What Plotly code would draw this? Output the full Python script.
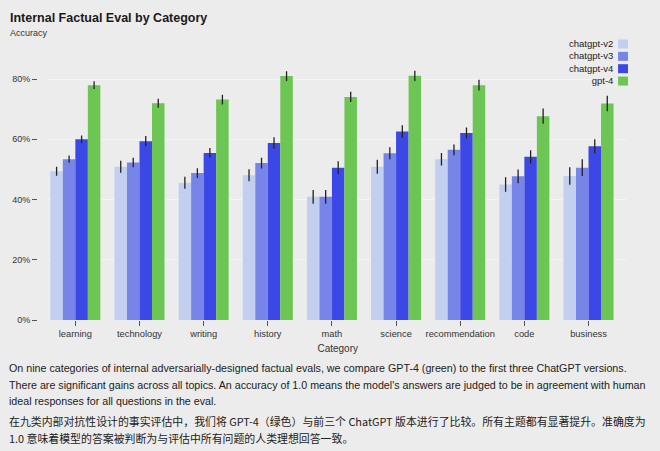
import plotly.graph_objects as go

categories = ["learning", "technology", "writing", "history", "math",
              "science", "recommendation", "code", "business"]
series_names = ["chatgpt-v2", "chatgpt-v3", "chatgpt-v4", "gpt-4"]

chatgpt_v2 = [0.494, 0.509, 0.456, 0.481, 0.409, 0.509, 0.534, 0.450, 0.478]
chatgpt_v3 = [0.534, 0.523, 0.488, 0.521, 0.409, 0.554, 0.565, 0.477, 0.506]
chatgpt_v4 = [0.600, 0.594, 0.555, 0.588, 0.506, 0.626, 0.621, 0.542, 0.577]
gpt_4 = [0.780, 0.720, 0.732, 0.810, 0.741, 0.811, 0.780, 0.677, 0.719]

err_v2 = [0.015, 0.020, 0.020, 0.020, 0.023, 0.023, 0.021, 0.024, 0.029]
err_v3 = [0.012, 0.016, 0.016, 0.018, 0.023, 0.020, 0.018, 0.023, 0.028]
err_v4 = [0.013, 0.017, 0.016, 0.019, 0.021, 0.021, 0.018, 0.022, 0.023]
err_g4 = [0.013, 0.015, 0.016, 0.016, 0.017, 0.017, 0.018, 0.025, 0.026]

colors = ["#c3cff0", "#7885e8", "#3c48e6", "#6dc554"]
values = [chatgpt_v2, chatgpt_v3, chatgpt_v4, gpt_4]
errors = [err_v2, err_v3, err_v4, err_g4]

y_ticks = [0, 0.2, 0.4, 0.6, 0.8]
y_tick_labels = ["0%", "20%", "40%", "60%", "80%"]

title_text = "Internal Factual Eval by Category"
y_label = "Accuracy"
x_label = "Category"
caption_en = [
    "On nine categories of internal adversarially-designed factual evals, we compare GPT-4 (green) to the first three ChatGPT versions.",
    "There are significant gains across all topics. An accuracy of 1.0 means the model's answers are judged to be in agreement with human",
    "ideal responses for all questions in the eval.",
]
caption_zh = [
    "在九类内部对抗性设计的事实评估中，我们将 GPT-4（绿色）与前三个 ChatGPT 版本进行了比较。所有主题都有显著提升。准确度为",
    "1.0 意味着模型的答案被判断为与评估中所有问题的人类理想回答一致。",
]

BG = "#ececec"
FONT = "Liberation Sans, Arial, sans-serif"
CJK = "Noto Sans CJK SC, Liberation Sans, sans-serif"

W, H = 660, 451
ML, MR, MT, MB = 32, 33, 49, 131
PW, PH = W - ML - MR, H - MT - MB
plot_left_px = 43.5


def px_x(px):
    return (px - ML) / PW


def px_y(py):
    return 1 - (py - MT) / PH


fig = go.Figure()
for name, vals, errs, col in zip(series_names, values, errors, colors):
    fig.add_trace(go.Bar(
        x=categories, y=vals, name=name,
        marker=dict(color=col, line=dict(width=0)),
        error_y=dict(type="data", array=errs, visible=True, color="#222222",
                     thickness=1.3, width=0),
        showlegend=False,
    ))

fig.update_layout(
    width=W, height=H,
    paper_bgcolor=BG, plot_bgcolor=BG,
    barmode="group", bargap=0.22, bargroupgap=0,
    margin=dict(l=ML, r=MR, t=MT, b=MB),
    font=dict(family=FONT, size=10, color="#333333"),
    xaxis=dict(
        domain=[px_x(plot_left_px), 1],
        range=[-0.42, 8.6], showgrid=False, zeroline=False, showline=False,
        ticks="outside", ticklen=5, tickcolor="#555555", tickwidth=1,
        tickfont=dict(size=9.3, color="#333333"),
        title=dict(text=x_label, font=dict(size=10, color="#333333"), standoff=6),
    ),
    yaxis=dict(
        anchor="free", position=0,
        range=[0, 0.9], tickvals=y_ticks, ticktext=y_tick_labels,
        showgrid=True, gridcolor="#f4f4f4", gridwidth=1, zeroline=False,
        ticks="outside", ticklen=5, tickcolor="#555555", tickwidth=1,
        tickfont=dict(size=9, color="#333333"),
    ),
)

fig.add_annotation(text="<b>" + title_text + "</b>", xref="paper", yref="paper",
                   x=px_x(3), y=px_y(18), xanchor="left", yanchor="middle",
                   showarrow=False, font=dict(size=12.5, color="#1a1a1a", family=FONT))
fig.add_annotation(text=y_label, xref="paper", yref="paper",
                   x=px_x(3), y=px_y(33), xanchor="left", yanchor="middle",
                   showarrow=False, font=dict(size=9, color="#333333", family=FONT))

# custom legend: labels right-aligned, swatches to their right
leg_font = 9.5
line_h = leg_font * 1.3
leg_top = 44 - line_h / 2
fig.add_annotation(text="<br>".join(series_names), xref="paper", yref="paper",
                   x=px_x(614), y=px_y(leg_top - 1), xanchor="right", yanchor="top",
                   align="right", borderpad=0, showarrow=False,
                   font=dict(size=leg_font, color="#222222", family=FONT))
for i, col in enumerate(colors):
    cy = 44 + i * line_h
    fig.add_shape(type="rect", xref="paper", yref="paper",
                  x0=px_x(618), x1=px_x(628), y0=px_y(cy + 4.5), y1=px_y(cy - 4.5),
                  fillcolor=col, line=dict(width=0))

for i, line in enumerate(caption_en):
    fig.add_annotation(text=line, xref="paper", yref="paper",
                       x=px_x(3), y=px_y(368 + i * 16.5), xanchor="left", yanchor="middle",
                       showarrow=False, borderpad=0,
                       font=dict(size=10.7, color="#222222", family=FONT))
for i, line in enumerate(caption_zh):
    fig.add_annotation(text=line, xref="paper", yref="paper",
                       x=px_x(3), y=px_y(421 + i * 16.5), xanchor="left", yanchor="middle",
                       showarrow=False, borderpad=0,
                       font=dict(size=10.9, color="#222222", family=CJK))

fig.write_html("out.html", config={"displayModeBar": False},
               post_script="document.body.style.margin='0';")
